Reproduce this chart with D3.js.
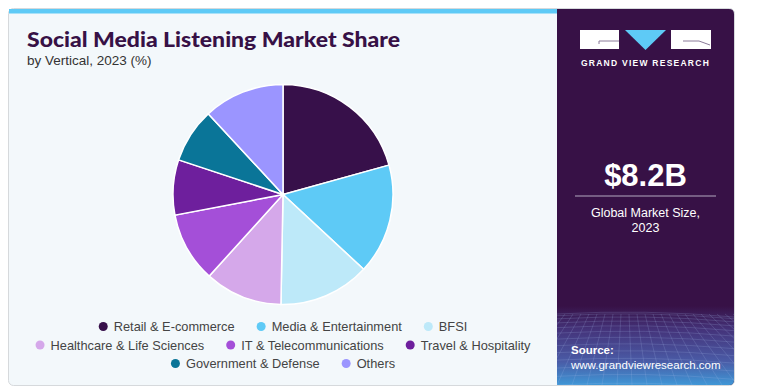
<!DOCTYPE html>
<html>
<head>
<meta charset="utf-8">
<script src="https://cdn.jsdelivr.net/npm/d3@7"></script>
<style>
body { margin: 0; background: #ffffff; }
svg { display: block; font-family: "Liberation Sans", Arial, sans-serif; }
</style>
</head>
<body>
<svg id="chart" width="763" height="391"></svg>
<script>
var categories = ["Retail & E-commerce", "Media & Entertainment", "BFSI",
  "Healthcare & Life Sciences", "IT & Telecommunications", "Travel & Hospitality",
  "Government & Defense", "Others"];
var shares = [20.7, 16.2, 13.4, 11.4, 10.3, 8.1, 8.0, 11.9];
var colors = ["#37104a", "#5ecaf6", "#bde9f9", "#d5a8ea", "#a44fd8", "#6e1f9d", "#0a7598", "#9b95ff"];
var legendRows = [[0, 1, 2], [3, 4, 5], [6, 7]];

var svg = d3.select("#chart");
var defs = svg.append("defs");

// carte
svg.append("rect").attr("x", 8.5).attr("y", 8.5).attr("width", 726).attr("height", 377)
  .attr("rx", 5).attr("fill", "#f3f8fb").attr("stroke", "#d6d9dc");
svg.append("rect").attr("x", 9).attr("y", 9).attr("width", 548).attr("height", 4.5)
  .attr("fill", "#5ecaf6");

// panneau droit
var g1 = defs.append("linearGradient").attr("id", "bottomGrad")
  .attr("x1", 0).attr("y1", 0).attr("x2", 0).attr("y2", 1);
g1.append("stop").attr("offset", "0%").attr("stop-color", "#371146");
g1.append("stop").attr("offset", "30%").attr("stop-color", "#44337a");
g1.append("stop").attr("offset", "70%").attr("stop-color", "#4a5ba6");
g1.append("stop").attr("offset", "100%").attr("stop-color", "#3f97d6");

var clip = defs.append("clipPath").attr("id", "panelClip");
clip.append("path").attr("d", "M557,9 H729 Q734,9 734,14 V380 Q734,385 729,385 H557 Z");

var panel = svg.append("g").attr("clip-path", "url(#panelClip)");
panel.append("rect").attr("x", 557).attr("y", 9).attr("width", 177).attr("height", 376)
  .attr("fill", "#371146");
panel.append("rect").attr("x", 557).attr("y", 306).attr("width", 177).attr("height", 79)
  .attr("fill", "url(#bottomGrad)");

// grille en perspective
var gridG = panel.append("g").attr("stroke", "#a9bdec").attr("stroke-opacity", 0.28)
  .attr("stroke-width", 0.7).attr("fill", "none");
d3.range(0, 13).forEach(function(i) {
  var y = 314 + Math.pow(i / 12, 1.5) * 71;
  gridG.append("path").attr("d", "M557," + y + " Q645," + (y - 5) + " 734," + (y + 3));
});
d3.range(-10, 24).forEach(function(i) {
  var xt = 557 + i * 8, xb = 557 + (i - 4) * 15;
  gridG.append("line").attr("x1", xt).attr("y1", 314).attr("x2", xb).attr("y2", 385);
});

// logo
var logo = svg.append("g");
logo.append("rect").attr("x", 580).attr("y", 30).attr("width", 39).attr("height", 19).attr("fill", "#ffffff");
logo.append("path").attr("d", "M625,30 H666 L645.5,50 Z").attr("fill", "#5ecaf6");
logo.append("rect").attr("x", 671).attr("y", 30).attr("width", 40).attr("height", 19).attr("fill", "#ffffff");
logo.append("path").attr("d", "M599,44 V41 H619").attr("stroke", "#8a7a99").attr("stroke-width", 1).attr("fill", "none");
logo.append("path").attr("d", "M683,41 H699 L710,45").attr("stroke", "#8a7a99").attr("stroke-width", 1).attr("fill", "none");
svg.append("text").attr("x", 645.5).attr("y", 66).attr("text-anchor", "middle")
  .attr("fill", "#ffffff").attr("font-size", 8.5).attr("font-weight", "bold")
  .attr("letter-spacing", 1.25).text("GRAND VIEW RESEARCH");

// taille du marché
svg.append("text").attr("x", 645.5).attr("y", 186).attr("text-anchor", "middle")
  .attr("fill", "#ffffff").attr("font-size", 31).attr("font-weight", "bold").text("$8.2B");
svg.append("line").attr("x1", 575).attr("x2", 716).attr("y1", 196).attr("y2", 196)
  .attr("stroke", "#b4a9c0").attr("stroke-width", 1.2);
svg.append("text").attr("x", 645.5).attr("y", 217).attr("text-anchor", "middle")
  .attr("fill", "#ffffff").attr("font-size", 12.5).text("Global Market Size,");
svg.append("text").attr("x", 645.5).attr("y", 232).attr("text-anchor", "middle")
  .attr("fill", "#ffffff").attr("font-size", 12.5).text("2023");

// source
svg.append("text").attr("x", 571).attr("y", 354).attr("fill", "#ffffff")
  .attr("font-size", 11.5).attr("font-weight", "bold").text("Source:");
svg.append("text").attr("x", 571).attr("y", 369).attr("fill", "#ffffff")
  .attr("font-size", 11.5).text("www.grandviewresearch.com");

// titres
svg.append("text").attr("x", 27).attr("y", 46.5).attr("fill", "#371146")
  .attr("font-family", "Lato, sans-serif").attr("font-weight", 900)
  .attr("font-size", 21.5).attr("textLength", 373).attr("lengthAdjust", "spacingAndGlyphs")
  .text("Social Media Listening Market Share");
svg.append("text").attr("x", 27).attr("y", 65).attr("fill", "#333333")
  .attr("font-size", 13.5).text("by Vertical, 2023 (%)");

// camembert
var cx = 283, cy = 194.5, radius = 110;
var pie = d3.pie().sort(null).value(function(d) { return d; });
var arc = d3.arc().innerRadius(0).outerRadius(radius);

svg.append("g").attr("transform", "translate(" + cx + "," + cy + ")")
  .selectAll("path")
  .data(pie(shares))
  .enter().append("path")
  .attr("d", arc)
  .attr("fill", function(d, i) { return colors[i]; })
  .attr("stroke", "#ffffff")
  .attr("stroke-width", 1.5);

// légende
var legendY = [331, 349.5, 368];
var legend = svg.append("g");
legendRows.forEach(function(row, r) {
  var rowG = legend.append("g");
  var x = 0;
  row.forEach(function(idx) {
    rowG.append("circle").attr("cx", x + 4.5).attr("cy", legendY[r] - 4.5)
      .attr("r", 4.5).attr("fill", colors[idx]);
    var t = rowG.append("text").attr("x", x + 15).attr("y", legendY[r])
      .attr("fill", "#444444").attr("font-size", 12.8).text(categories[idx]);
    x += 15 + t.node().getComputedTextLength() + 22;
  });
  var w = x - 22;
  rowG.attr("transform", "translate(" + (cx - w / 2) + ",0)");
});
</script>
</body>
</html>
